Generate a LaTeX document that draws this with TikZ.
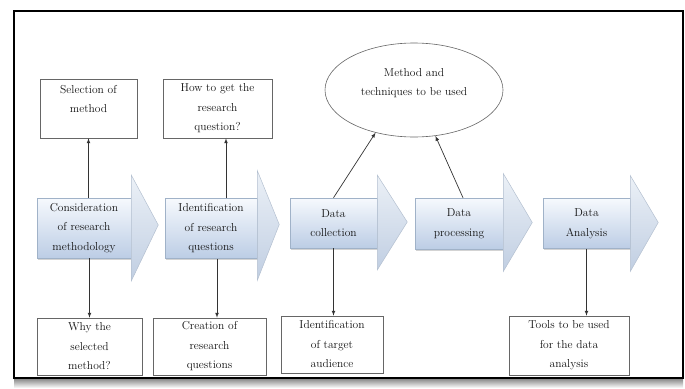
\documentclass[tikz,border=0pt]{standalone}
\usepackage{tikz}
\usetikzlibrary{calc,shapes.geometric,shadows}

\definecolor{boxtop}{RGB}{246,249,253}
\definecolor{boxbot}{RGB}{188,205,229}
\definecolor{boxline}{RGB}{160,178,200}
\definecolor{chevtop}{RGB}{236,241,247}
\definecolor{chevbot}{RGB}{192,206,226}
\definecolor{chevline}{RGB}{180,192,208}
\definecolor{ink}{RGB}{20,20,20}

\begin{document}
\begin{tikzpicture}[x=1pt,y=-1pt,>=latex,
    every node/.style={font=\fontsize{11.5}{19.5}\selectfont,text=ink,align=center,inner sep=0pt},
    stepbox/.style={draw=boxline,line width=0.5pt,top color=boxtop,bottom color=boxbot,
        drop shadow={shadow xshift=0.8pt,shadow yshift=-1.5pt,opacity=0.35}},
    notebox/.style={draw=black!60,line width=0.6pt,fill=white},
    chev/.style={draw=chevline,line width=0.5pt,top color=chevtop,bottom color=chevbot},
    link/.style={->,draw=black!80,line width=0.7pt}]
                    \useasboundingbox (0,0) rectangle (685,388);
                    % Frame
                    \shade[top color=black!45,bottom color=white] (14,379) rectangle (683,388);
                    \draw[line width=2.6pt] (14,11) rectangle (683,378);
                    % Steps
                    \node[stepbox,minimum width=94,minimum height=60] (C1) at (84,228) {Consideration\\of research\\methodology};
                    \node[stepbox,minimum width=92,minimum height=60] (C2) at (211,228.5) {Identification\\of research\\questions};
                    \node[stepbox,minimum width=87,minimum height=50] (C3) at (333.5,223) {Data\\collection};
                    \node[stepbox,minimum width=88,minimum height=51] (C4) at (459,223.5) {Data\\processing};
                    \node[stepbox,minimum width=87,minimum height=50] (C5) at (586.5,223.5) {Data\\Analysis};
                    % Chevrons
                    \draw[chev] ($(C1.east)+(0,-53)$) -- ($(C1.east)+(27,-3)$) -- ($(C1.east)+(0,53)$) -- cycle;
                    \draw[chev] ($(C2.east)+(0,-58)$) -- ($(C2.east)+(22,-4)$) -- ($(C2.east)+(0,52)$) -- cycle;
                    \draw[chev] ($(C3.east)+(0,-48)$) -- ($(C3.east)+(30,-1)$) -- ($(C3.east)+(0,47)$) -- cycle;
                    \draw[chev] ($(C4.east)+(0,-50)$) -- ($(C4.east)+(29,-1)$) -- ($(C4.east)+(0,48)$) -- cycle;
                    \draw[chev] ($(C5.east)+(0,-48)$) -- ($(C5.east)+(28,-1)$) -- ($(C5.east)+(0,48)$) -- cycle;
                    % Tops
                    \node[notebox,minimum width=97,minimum height=59] (S1) at (88.5,108.5) {Selection of\\method\\\mbox{}};
                    \node[notebox,minimum width=109,minimum height=59] (S2) at (217.5,108.5) {How to get the\\research\\question?};
                    \node[notebox,ellipse,minimum width=178,minimum height=94] (E) at (414,90) {Method and\\techniques to be used\\[-4pt]\mbox{}};
                    % Bottoms
                    \node[notebox,minimum width=105,minimum height=57] (W1) at (89.5,346.5) {Why the\\selected\\method?};
                    \node[notebox,minimum width=113,minimum height=57] (W2) at (209.5,346.5) {Creation of\\research\\questions};
                    \node[notebox,minimum width=102,minimum height=57] (W3) at (332,344.5) {Identification\\of target\\audience};
                    \node[notebox,minimum width=120,minimum height=59] (W4) at (569,345.5) {Tools to be used\\for the data\\analysis};
                    % Links
                    \draw [link] (C1.north -| S1.south) -- (S1.south);
                    \draw [link] (C1.south -| W1.north) -- (W1.north);
                    \draw [link] ($(C2.north)+(15,0)$) -- ($(S2.south)+(8.5,0)$);
                    \draw [link] ($(C2.south)+(6,0)$) -- ($(W2.north)+(7.5,0)$);
                    \draw [link] (C3.north) -- (E.228);
                    \draw [link] ($(C4.north)+(4,0)$) -- (E.295);
                    \draw [link] (C3.south) -- (C3.south |- W3.north);
                    \draw [link] (C5.south) -- (C5.south |- W4.north);
                \end{tikzpicture}
\end{document}
